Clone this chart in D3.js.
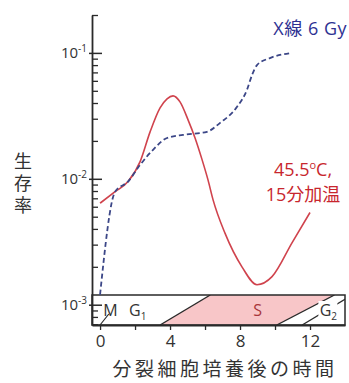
<!DOCTYPE html>
<meta charset="utf-8">
<!-- d3 v7 -->
<script src="https://d3js.org/d3.v7.min.js"></script>
<style>
  body { margin: 0; background: #fff; }
  svg { display: block; }
  text { font-family: "Open Sans", "Noto Sans CJK JP", sans-serif; }
</style>

<div id="chart"></div>

<script>
    // survival vs. hours after mitotic selection
    const xrayHours    = [0, 0.86, 1.6, 2.29, 3.03, 3.83, 4.74, 5.31, 6.11, 6.86, 7.83, 8.4, 8.69, 8.97, 9.71, 10.97];
    const xraySurvival = [0.0012, 0.0079, 0.0095, 0.0129, 0.017, 0.0211, 0.0223, 0.0228, 0.0236, 0.0278, 0.0373, 0.051, 0.0669, 0.080, 0.091, 0.1];

    const heatHours    = [0, 0.86, 1.6, 2.29, 2.86, 3.43, 3.83, 4.17, 4.57, 5.03, 5.43, 5.83, 6.17, 6.46, 7.14, 8.11, 8.97, 9.83, 10.97, 12.0];
    const heatSurvival = [0.0064, 0.0079, 0.0095, 0.0137, 0.0236, 0.0366, 0.0432, 0.0456, 0.0408, 0.0294, 0.0211, 0.0142, 0.0098, 0.0068, 0.0037, 0.0020, 0.00144, 0.00167, 0.0031, 0.0054];

    // axis ticks
    const xTicks = [0, 2, 4, 6, 8, 10, 12];
    const xTickLabels = [0, 4, 8, 12];
    const yMajor = [1e-3, 1e-2, 1e-1];
    const yExps = ["-3", "-2", "-1"];

    // cell cycle band (hours where each border meets the bottom / top edge)
    const phaseNames = ["M", "G", "S", "G"];
    const phaseSubs = ["", "1", "", "2"];
    const phaseHours = [0.6, 2.15, 9.0, 13.05];
    const sBottom = [3.43, 10.1];
    const sTop = [6.3, 13.4];
    const g2Line = [11.55, 14.4];
    const mLine = [0, 0.5];

    const margin = {top: 15, right: 4, bottom: 58, left: 92},
          width = 349 - margin.left - margin.right,
          height = 383 - margin.top - margin.bottom;
    const bandH = 30;

    const svgRoot = d3.select("#chart")
      .append("svg")
        .attr("width", 349)
        .attr("height", 383);
    const svg = svgRoot.append("g")
        .attr("transform", `translate(${margin.left}, ${margin.top})`);

    const x = d3.scaleLinear().domain([-0.46, 14]).range([0, width]);
    const y = d3.scaleLog().domain([6.9e-4, 0.2]).range([height, 0]);

    const ink = "#2a2a2a";

    // ---- phase band ----
    const bandTop = height - bandH;
    svg.append("clipPath").attr("id", "bandClip")
      .append("rect").attr("x", 0).attr("y", bandTop).attr("width", width).attr("height", bandH);

    svg.append("polygon")
        .attr("points", [[x(sBottom[0]), height], [x(sTop[0]), bandTop], [x(sTop[1]), bandTop], [x(sBottom[1]), height]].join(" "))
        .attr("fill", "#f8c6c8")
        .attr("clip-path", "url(#bandClip)");

    const borders = [[sBottom[0], sTop[0]], [sBottom[1], sTop[1]], [g2Line[0], g2Line[1]]];
    svg.selectAll("line.border").data(borders).enter().append("line")
        .attr("class", "border")
        .attr("x1", d => x(d[0])).attr("y1", height)
        .attr("x2", d => x(d[1])).attr("y2", bandTop)
        .attr("stroke", ink).attr("stroke-width", 1.3)
        .attr("clip-path", "url(#bandClip)");

    // short slash under the M
    svg.append("line")
        .attr("x1", x(mLine[0])).attr("y1", height)
        .attr("x2", x(mLine[1])).attr("y2", height - 11)
        .attr("stroke", ink).attr("stroke-width", 1.2);

    // white patch behind G2 so the border passes under it
    svg.append("rect")
        .attr("x", x(phaseHours[3]) - 10).attr("y", bandTop + 6)
        .attr("width", 19).attr("height", 18).attr("fill", "#fff");

    phaseNames.forEach((p, i) => {
        const t = svg.append("text")
            .attr("x", x(phaseHours[i]))
            .attr("y", bandTop + 21)
            .attr("text-anchor", "middle")
            .attr("font-size", 16)
            .attr("fill", p === "S" ? "#a8363b" : "#333");
        t.append("tspan").text(p);
        if (phaseSubs[i]) t.append("tspan").attr("font-size", 10).attr("dy", 4).text(phaseSubs[i]);
    });

    svg.append("rect")
        .attr("x", 0).attr("y", bandTop)
        .attr("width", width).attr("height", bandH)
        .attr("fill", "none").attr("stroke", ink).attr("stroke-width", 1.5);

    // ---- axes ----
    const xAxis = svg.append("g")
        .attr("transform", `translate(0, ${height})`)
        .call(d3.axisBottom(x).tickValues(xTicks).tickSize(5).tickSizeOuter(0)
            .tickFormat(d => xTickLabels.includes(d) ? d : ""));
    xAxis.select(".domain").attr("stroke", ink).attr("stroke-width", 1.8);
    xAxis.selectAll(".tick line").attr("stroke", ink).attr("stroke-width", 1.3);
    xAxis.selectAll(".tick text").attr("font-size", 17).attr("fill", "#333").attr("dy", "0.85em")
        .style("font-family", "'Open Sans', sans-serif");

    const minorVals = [];
    [-4, -3, -2].forEach(e => d3.range(2, 10).forEach(k => minorVals.push(k * Math.pow(10, e))));
    minorVals.push(0.2);
    const yMinorAxis = svg.append("g")
        .call(d3.axisLeft(y).tickValues(minorVals.filter(v => v >= 6.9e-4 && v <= 0.2))
            .tickSize(-6).tickSizeOuter(0).tickFormat(""));
    yMinorAxis.select(".domain").attr("stroke", ink).attr("stroke-width", 1.8);
    yMinorAxis.selectAll(".tick line").attr("stroke", ink).attr("stroke-width", 1.3);

    const yMajorAxis = svg.append("g")
        .call(d3.axisLeft(y).tickValues(yMajor).tickSize(-10).tickSizeOuter(0).tickFormat(""));
    yMajorAxis.select(".domain").remove();
    yMajorAxis.selectAll(".tick line").attr("stroke", ink).attr("stroke-width", 1.5).attr("x1", -3);

    yMajor.forEach((v, i) => {
        const t = svg.append("text")
            .attr("x", -5)
            .attr("y", y(v) + 5)
            .attr("text-anchor", "end")
            .attr("font-size", 15)
            .attr("fill", "#333");
        t.append("tspan").text("10");
        t.append("tspan").attr("font-size", 10).attr("dy", -6).text(yExps[i]);
    });

    // ---- curves ----
    const line = d3.line()
        .x(d => x(d[0]))
        .y(d => y(d[1]))
        .curve(d3.curveMonotoneX);

    svg.append("path")
        .datum(heatHours.map((h, i) => [h, heatSurvival[i]]))
        .attr("fill", "none")
        .attr("stroke", "#d0434d")
        .attr("stroke-width", 1.6)
        .attr("d", line);

    svg.append("path")
        .datum(xrayHours.map((h, i) => [h, xraySurvival[i]]))
        .attr("fill", "none")
        .attr("stroke", "#3b4687")
        .attr("stroke-width", 1.8)
        .attr("stroke-dasharray", "5,3")
        .attr("d", line);

    // ---- labels ----
    svgRoot.append("text")
        .attr("x", 347).attr("y", 35)
        .attr("text-anchor", "end")
        .attr("font-size", 18)
        .attr("letter-spacing", 0.5)
        .attr("fill", "#2e3192")
        .text("X線 6 Gy");

    const heatLabel = svgRoot.append("text")
        .attr("x", 303).attr("y", 176)
        .attr("text-anchor", "middle")
        .attr("font-size", 18)
        .attr("fill", "#c8262e");
    heatLabel.append("tspan").text("45.5");
    heatLabel.append("tspan").attr("font-size", 11).attr("dy", -7).text("o");
    heatLabel.append("tspan").attr("dy", 7).text("C,");
    svgRoot.append("text")
        .attr("x", 303).attr("y", 201)
        .attr("text-anchor", "middle")
        .attr("font-size", 18)
        .attr("fill", "#c8262e")
        .text("15分加温");

    ["生", "存", "率"].forEach((c, i) => {
        svgRoot.append("text")
            .attr("x", 23).attr("y", 168 + i * 22)
            .attr("text-anchor", "middle")
            .attr("font-size", 18)
            .attr("fill", "#333")
            .text(c);
    });

    svgRoot.append("text")
        .attr("x", 225).attr("y", 376)
        .attr("text-anchor", "middle")
        .attr("font-size", 19)
        .attr("letter-spacing", 3.5)
        .attr("fill", "#333")
        .text("分裂細胞培養後の時間");
</script>
</html>
